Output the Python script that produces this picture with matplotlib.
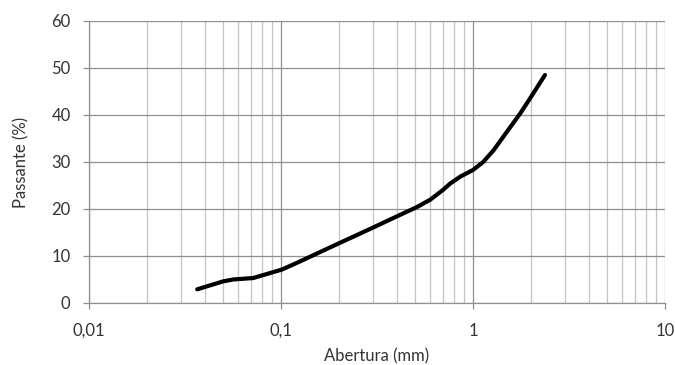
import matplotlib.pyplot as plt
from matplotlib.ticker import FixedLocator, FuncFormatter, LogLocator, NullFormatter

# grain size curve
abertura = [0.0366, 0.050, 0.0565, 0.0716, 0.101, 0.125, 0.165, 0.203, 0.30,
            0.40, 0.51, 0.60, 0.70, 0.76, 0.86, 1.0, 1.13, 1.28, 1.50, 1.76, 1.98, 2.37]
passante = [2.9, 4.6, 5.0, 5.3, 7.1, 8.8, 11.1, 12.8, 16.0,
            18.4, 20.4, 22.0, 24.1, 25.4, 26.9, 28.3, 30.0, 32.5, 36.4, 40.3, 43.5, 48.5]

x_ticks = [0.01, 0.1, 1, 10]
x_labels = ["0,01", "0,1", "1", "10"]
y_ticks = [0, 10, 20, 30, 40, 50, 60]


def main():
    plt.rcParams["font.family"] = ["Lato", "DejaVu Sans"]
    fig = plt.figure(figsize=(6.75, 3.65), dpi=100)
    ax = fig.add_axes([0.1319, 0.170, 0.8533, 0.7725])

    ax.plot(abertura, passante, color="black", lw=3, solid_joinstyle="round",
            solid_capstyle="round", zorder=3)

    ax.set_xscale("log")
    ax.set_xlim(0.01, 10)
    ax.set_ylim(0, 60)

    ax.xaxis.set_major_locator(FixedLocator(x_ticks))
    ax.xaxis.set_major_formatter(FuncFormatter(lambda v, p: x_labels[x_ticks.index(v)] if v in x_ticks else ""))
    ax.xaxis.set_minor_locator(LogLocator(base=10, subs=range(2, 10)))
    ax.xaxis.set_minor_formatter(NullFormatter())
    ax.set_yticks(y_ticks)

    ax.grid(which="major", color="#8f8f8f", lw=0.9)
    ax.grid(which="minor", axis="x", color="#c4c4c4", lw=0.9)
    ax.set_axisbelow(True)

    for side in ["top", "right"]:
        ax.spines[side].set_visible(False)
    for side in ["left", "bottom"]:
        ax.spines[side].set_color("#8f8f8f")
        ax.spines[side].set_linewidth(0.9)

    ax.tick_params(which="major", length=4.3, width=0.9, color="#8f8f8f",
                   labelsize=12, labelcolor="#333333")
    ax.tick_params(axis="x", which="major", pad=10)
    ax.tick_params(axis="y", which="major", pad=9)
    ax.tick_params(which="minor", length=0)

    ax.set_xlabel("Abertura (mm)", fontsize=12, color="#333333", labelpad=7)
    ax.set_ylabel("Passante (%)", fontsize=12, color="#333333", labelpad=16)

    fig.savefig("out.png", dpi=100)


if __name__ == "__main__":
    main()
